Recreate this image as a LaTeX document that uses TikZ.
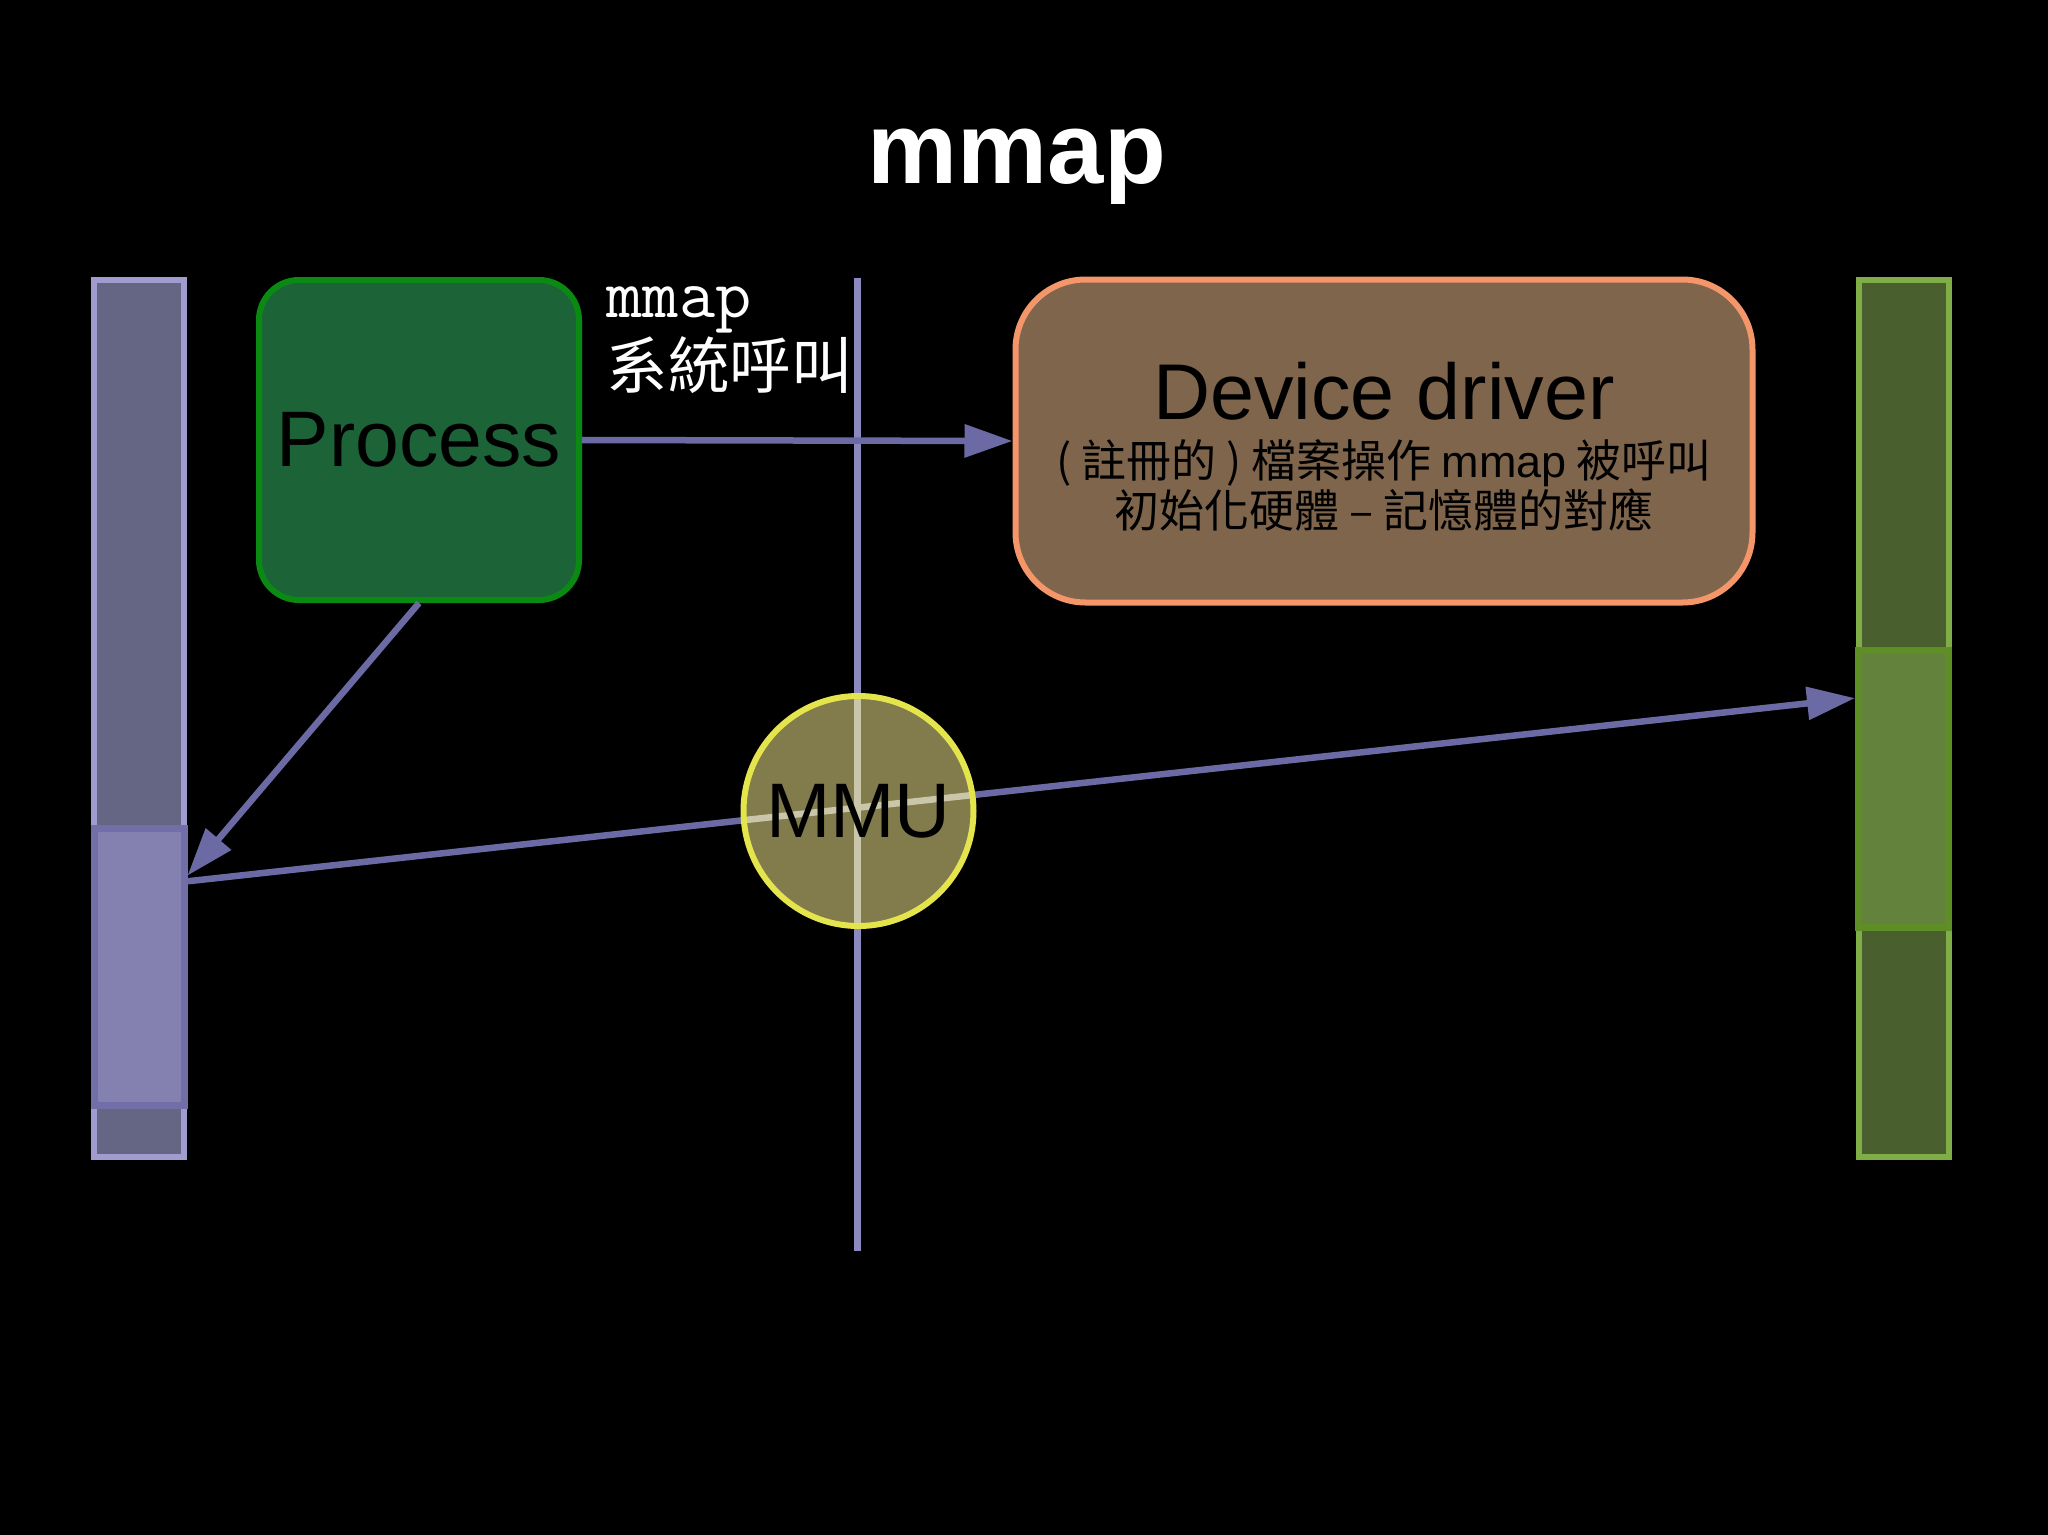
\documentclass[tikz,border=0pt]{standalone}
\usepackage{fontspec}
\setmainfont{Liberation Sans}
\newfontfamily\cjk{Noto Sans CJK TC}
\usetikzlibrary{arrows.meta,calc}

\definecolor{vmfill}{HTML}{656584}
\definecolor{vmedge}{HTML}{A09CD0}
\definecolor{vmhifill}{HTML}{8480B0}
\definecolor{vmhiedge}{HTML}{726EA8}
\definecolor{pmfill}{HTML}{4A5F2E}
\definecolor{pmedge}{HTML}{7FAE48}
\definecolor{pmhifill}{HTML}{63823C}
\definecolor{pmhiedge}{HTML}{5E8E26}
\definecolor{procfill}{HTML}{1C6338}
\definecolor{procedge}{HTML}{0A8A12}
\definecolor{drvfill}{HTML}{7F654B}
\definecolor{drvedge}{HTML}{F4966A}
\definecolor{mmufill}{HTML}{827B4B}
\definecolor{mmuedge}{HTML}{E4E44C}
\definecolor{wire}{HTML}{6C6AA4}
\definecolor{divider}{HTML}{8C88C0}
\definecolor{wireinside}{HTML}{CAC6AA}

\tikzset{
  membar/.style={rectangle, minimum width=0.90cm, minimum height=8.77cm, line width=0.06cm, inner sep=0pt},
  memhi/.style={rectangle, minimum width=0.90cm, minimum height=2.77cm, line width=0.07cm, inner sep=0pt},
  wirearrow/.style={draw=wire, line width=0.065cm, -{Triangle[length=0.48cm, width=0.32cm]}},
}

\begin{document}
\begin{tikzpicture}
  \filldraw[fill=black, draw=none] (0cm,0cm) rectangle (20.48cm,-15.35cm);
  \node[anchor=base, text=white, font=\bfseries\fontsize{28.8}{34}\selectfont] (title) at (10.17cm,-1.83cm) {mmap};

  % memory bars
  \node[membar, fill=vmfill, draw=vmedge] (vmem) at (1.39cm,-7.185cm) {};
  \node[memhi, fill=vmhifill, draw=vmhiedge] (vhi) at (1.39cm,-9.665cm) {};
  \node[membar, fill=pmfill, draw=pmedge] (pmem) at (19.035cm,-7.185cm) {};
  \node[memhi, fill=pmhifill, draw=pmhiedge] (phi) at (19.035cm,-7.89cm) {};

  % divider
  \coordinate (kertop) at (8.57cm,-2.78cm);
  \coordinate (kerbot) at (8.57cm,-12.51cm);
  \draw[divider, line width=0.07cm] (kertop) -- (kerbot);

  \node[rectangle, rounded corners=0.4cm, fill=procfill, draw=procedge, line width=0.06cm,
        minimum width=3.20cm, minimum height=3.20cm, font=\fontsize{22.4}{27}\selectfont] (process) at (4.19cm,-4.40cm) {Process};
  \node[rectangle, rounded corners=0.7cm, fill=drvfill, draw=drvedge, line width=0.06cm,
        minimum width=7.37cm, minimum height=3.23cm, align=center, font=\cjk\fontsize{12.8}{14.2}\selectfont] (driver) at (13.84cm,-4.41cm)
        {\rule{0pt}{0.1cm}\\[-0.02cm]{\rmfamily\fontsize{22.5}{24}\selectfont Device driver}\\[0.08cm]
         ( 註冊的 ) 檔案操作 {\rmfamily mmap} 被呼叫\\
         初始化硬體 – 記憶體的對應};
  \node[anchor=north west, align=left, inner sep=0pt, text=white, font=\fontsize{17.5}{18.6}\selectfont] (calllabel) at (6.06cm,-2.86cm)
        {{\ttfamily\fontsize{20}{18.6}\selectfont mmap}\\ \cjk 系統呼叫};

  \coordinate (vend) at ($(vhi.north east)!0.20!(vhi.south east)$);
  \coordinate (vtip) at ($(vhi.north east)!0.18!(vhi.south east)$);
  \coordinate (pend) at ($(phi.north west)!0.18!(phi.south west)$);

  \draw[wirearrow] (process.east) -- (driver.west);
  \draw[wirearrow] (process.south) -- (vtip);
  \draw[wirearrow] (vend) -- (pend);

  % MMU
  \node[circle, fill=mmufill, minimum size=2.30cm, inner sep=0pt] (mmu) at (8.585cm,-8.11cm) {};
  \begin{scope}
    \clip (mmu.center) circle (1.15cm);
    \draw[wireinside, line width=0.07cm] (kertop) -- (kerbot);
    \draw[wireinside, line width=0.065cm] (vend) -- (pend);
  \end{scope}
  \node[circle, draw=mmuedge, line width=0.06cm, minimum size=2.30cm, inner sep=0pt,
        font=\fontsize{22}{26}\selectfont] (mmulabel) at (mmu.center) {MMU};
\end{tikzpicture}
\end{document}
